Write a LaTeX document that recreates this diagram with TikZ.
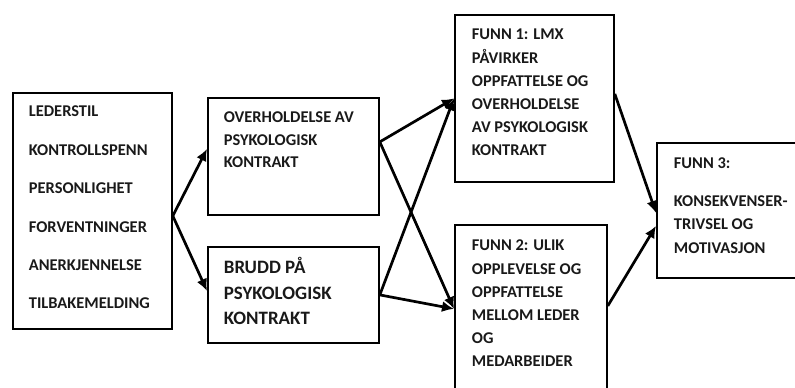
\documentclass[tikz,border=0pt]{standalone}
\usepackage{fontspec}
\setmainfont{Carlito}
\usetikzlibrary{arrows.meta}

\begin{document}
\begin{tikzpicture}[x=1bp,y=-1bp,
  boks/.style={draw, line width=1.8bp, anchor=north west, inner sep=0pt,
    font=\bfseries\fontsize{16.5}{23}\selectfont, text=black!90},
  pil/.style={-{Latex[length=12bp,width=11bp]}, line width=2.7bp}]
  \useasboundingbox (0,0) rectangle (795,387);
  \clip (0,0) rectangle (795,387);

  \node[boks] (A) at (12,92) {\parbox[t][236bp][t]{159bp}{\leftskip=16bp\rightskip=0pt plus 1fil\baselineskip=38.4bp
    \rule{0pt}{24bp}LEDERSTIL\\ KONTROLLSPENN\\ PERSONLIGHET\\ FORVENTNINGER\\ ANERKJENNELSE\\ TILBAKEMELDING}};

  \node[boks] (B) at (207,97) {\parbox[t][117bp][t]{171bp}{\leftskip=16bp\rightskip=0pt plus 1fil\baselineskip=22.5bp
    \rule{0pt}{25bp}OVERHOLDELSE AV\\ PSYKOLOGISK\\ KONTRAKT}};
  \node[boks, font=\bfseries\fontsize{19}{25.5}\selectfont] (C) at (207,246) {\parbox[t][96bp][t]{171bp}{\leftskip=16bp\rightskip=0pt plus 1fil\baselineskip=25.5bp
    \rule{0pt}{27bp}BRUDD PÅ\\ PSYKOLOGISK\\ KONTRAKT}};

  \node[boks] (D) at (454,14) {\parbox[t][167bp][t]{159bp}{\leftskip=17bp\rightskip=0pt plus 1fil\baselineskip=23.2bp
    \rule{0pt}{25bp}FUNN 1: LMX\\ PÅVIRKER\\ OPPFATTELSE OG\\ OVERHOLDELSE\\ AV PSYKOLOGISK\\ KONTRAKT}};
  \node[boks] (E) at (454,224) {\parbox[t][171bp][t]{152bp}{\leftskip=17bp\rightskip=0pt plus 1fil\baselineskip=23.2bp
    \rule{0pt}{26bp}FUNN 2: ULIK\\ OPPLEVELSE OG\\ OPPFATTELSE\\ MELLOM LEDER\\ OG\\ MEDARBEIDER}};

  \node[boks] (F) at (656,142) {\parbox[t][135bp][t]{170bp}{\leftskip=17bp\rightskip=0pt plus 1fil\baselineskip=23.5bp
    \rule{0pt}{26bp}FUNN 3:\\[14bp] KONSEKVENSER-\\ TRIVSEL OG\\ MOTIVASJON}};

  \coordinate (Aut) at ([yshift=-5bp]A.east);
  \coordinate (Binn) at ([yshift=7.5bp]B.west);
  \coordinate (Cinn) at ([yshift=4bp]C.west);
  \coordinate (But) at ([yshift=14.5bp]B.east);
  \coordinate (Cut) at (C.east);
  \coordinate (Dinn) at (D.west);
  \coordinate (Einn) at ([yshift=1.5bp]E.west);
  \coordinate (Dut) at ([yshift=4.5bp]D.east);
  \coordinate (Eut) at ([yshift=4.5bp]E.east);
  \coordinate (Finn1) at ([yshift=-2.5bp]F.west);
  \coordinate (Finn2) at ([yshift=-15.5bp]F.west);

  \foreach \from/\to in {Aut/Binn, Aut/Cinn,
                    But/Dinn, But/Einn, Cut/Dinn, Cut/Einn,
                    Dut/Finn1, Eut/Finn2}
    \draw[pil] (\from) -- (\to);
\end{tikzpicture}
\end{document}
